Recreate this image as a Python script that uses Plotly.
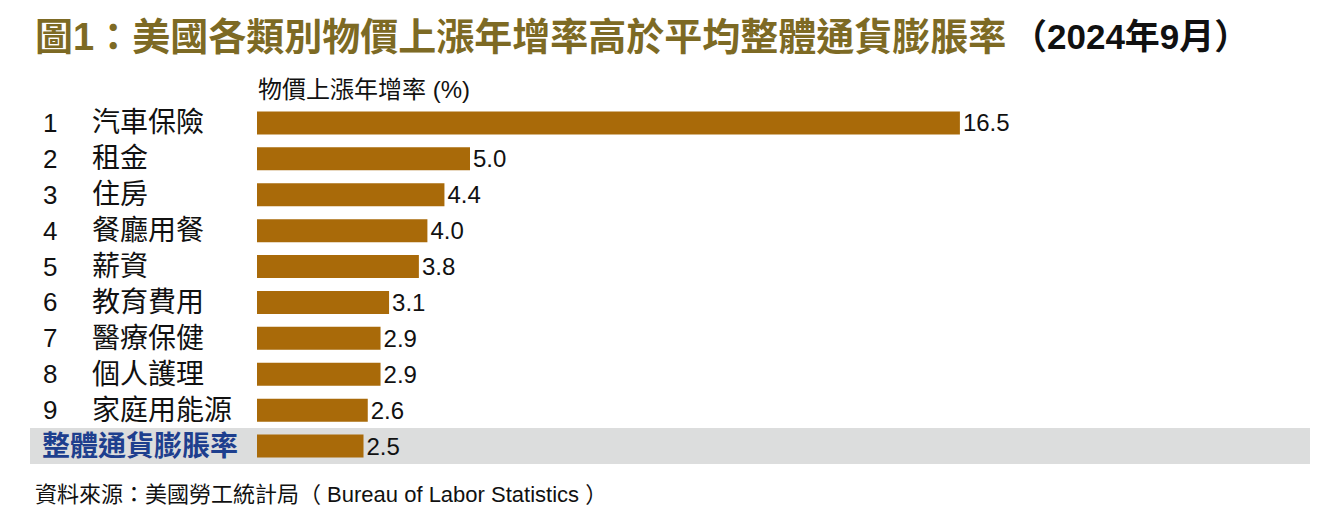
import plotly.graph_objects as go

ranks = ["1", "2", "3", "4", "5", "6", "7", "8", "9", ""]
categories = ["汽車保險", "租金", "住房", "餐廳用餐", "薪資", "教育費用", "醫療保健", "個人護理", "家庭用能源", "整體通貨膨脹率"]
values = [16.5, 5.0, 4.4, 4.0, 3.8, 3.1, 2.9, 2.9, 2.6, 2.5]
value_labels = [f"{v:.1f}" for v in values]

title_main = "圖1：美國各類別物價上漲年增率高於平均整體通貨膨脹率"
title_date = "（2024年9月）"
axis_header = "物價上漲年增率 (%)"
source_text = "資料來源：美國勞工統計局（ Bureau of Labor Statistics ）"

OFF = 8  # page body margin
W, H = 1321 - OFF, 523 - OFF
L = 257 - OFF
T = 105 - OFF
B = H - (464 - OFF)
R = W - (1310 - OFF)
pw = W - L - R
ph = H - T - B

def px_x(x):
    return (x - OFF - L) / pw

def px_y(y):
    return 1 + (T - (y - OFF)) / ph

MIX = "Liberation Sans, Noto Sans CJK TC"
ARIAL = "Liberation Sans, Arial"
BAR = "#A96A09"
BLUE = "#1E3F8E"

fig = go.Figure()
fig.add_trace(go.Bar(
    x=values, y=list(range(len(categories))), orientation="h",
    marker=dict(color=BAR, line=dict(width=0)),
    text=value_labels, textposition="outside", cliponaxis=False, constraintext="none",
    textfont=dict(family=ARIAL, size=24, color="#111"),
    hoverinfo="skip",
))

shapes = [dict(type="rect", xref="paper", yref="y", x0=px_x(30), x1=px_x(1310),
               y0=len(categories) - 1.5, y1=len(categories) - 0.5,
               fillcolor="#DCDDDD", line=dict(width=0), layer="below")]

ann = []
for i, (r, c) in enumerate(zip(ranks, categories)):
    last = i == len(categories) - 1
    if r:
        ann.append(dict(x=px_x(50), y=i, xref="paper", yref="y", text=r, showarrow=False,
                        xanchor="center", yanchor="middle",
                        font=dict(family=ARIAL, size=26, color="#111")))
    ann.append(dict(x=px_x(40 if last else 90), y=i, xref="paper", yref="y",
                    text=f"<b>{c}</b>" if last else c, showarrow=False,
                    xanchor="left", yanchor="middle",
                    font=dict(family=MIX, size=28, color=BLUE if last else "#111")))

ann.append(dict(x=px_x(33), y=px_y(37), xref="paper", yref="paper", showarrow=False,
                xanchor="left", yanchor="middle", text=f"<b>{title_main}</b>",
                font=dict(family=MIX, size=38, color="#7D6A24")))
ann.append(dict(x=px_x(1010), y=px_y(37), xref="paper", yref="paper", showarrow=False,
                xanchor="left", yanchor="middle", text=f"<b>{title_date}</b>",
                font=dict(family=MIX, size=35, color="#111")))
ann.append(dict(x=px_x(256), y=px_y(90), xref="paper", yref="paper", showarrow=False,
                xanchor="left", yanchor="middle", text=axis_header,
                font=dict(family=MIX, size=24, color="#111")))
ann.append(dict(x=px_x(33), y=px_y(494), xref="paper", yref="paper", showarrow=False,
                xanchor="left", yanchor="middle", text=source_text,
                font=dict(family=MIX, size=22, color="#111")))

fig.update_layout(
    width=W, height=H, margin=dict(l=L, r=R, t=T, b=B),
    paper_bgcolor="white", plot_bgcolor="rgba(0,0,0,0)",
    showlegend=False, bargap=0.36,
    xaxis=dict(range=[0, pw / 42.6], visible=False, fixedrange=True),
    yaxis=dict(range=[len(categories) - 0.5, -0.5], visible=False, fixedrange=True),
    shapes=shapes, annotations=ann,
)
fig.write_html("out.html")
